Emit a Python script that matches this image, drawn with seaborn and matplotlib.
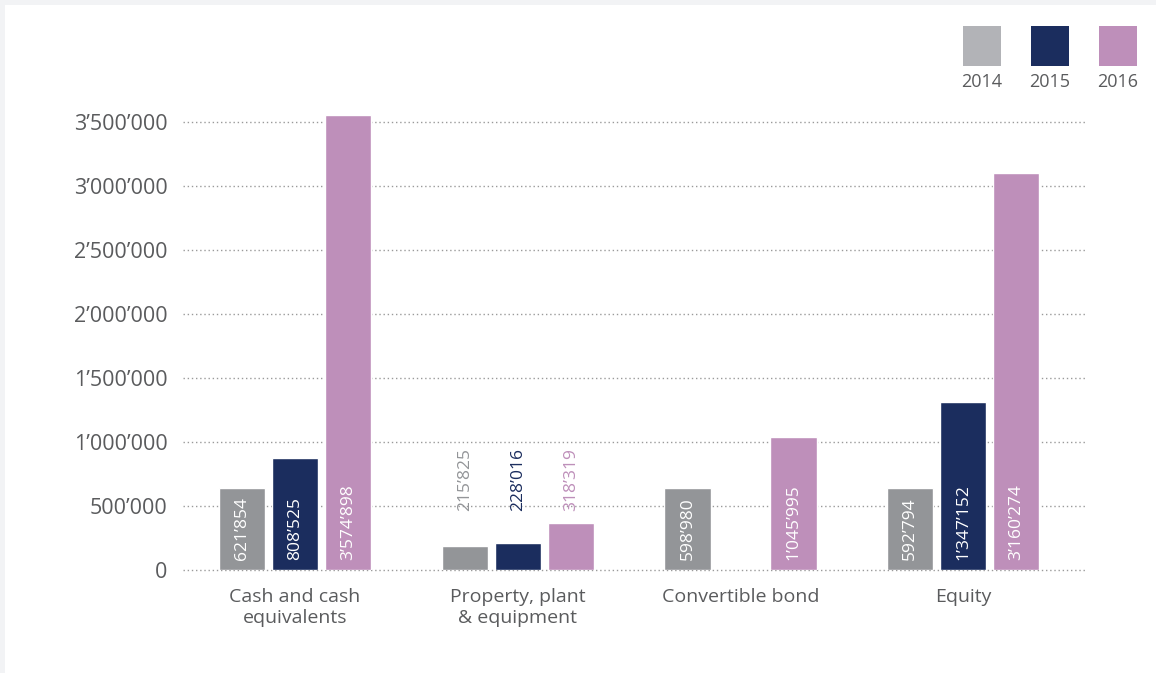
import matplotlib
matplotlib.use("Agg")
import matplotlib.pyplot as plt
from matplotlib.patches import Rectangle
import seaborn as sns
import pandas as pd

# ---- data ----
categories = ["Cash and cash\nequivalents", "Property, plant\n& equipment", "Convertible bond", "Equity"]
years = ["2014", "2015", "2016"]
# bar heights as drawn in the reference (None = no bar)
values_2014 = [640000, 187000, 640000, 640000]
values_2015 = [875000, 211000, None, 1312000]
values_2016 = [3555000, 367000, 1039000, 3101000]
# printed value labels
labels_2014 = ["621’854", "215’825", "598’980", "592’794"]
labels_2015 = ["808’525", "228’016", "", "1’347’152"]
labels_2016 = ["3’574’898", "318’319", "1’045’995", "3’160’274"]
yticks = [0, 500000, 1000000, 1500000, 2000000, 2500000, 3000000, 3500000]

bar_colors = ["#939598", "#1b2d5e", "#be8fba"]
legend_colors = ["#b2b3b7", "#1b2d5e", "#be8fba"]
text_color = "#5a5b5d"

rows = []
for yr, vals in zip(years, [values_2014, values_2015, values_2016]):
    for c, v in zip(categories, vals):
        if v is not None:
            rows.append({"cat": c, "year": yr, "value": v})
df = pd.DataFrame(rows)
label_map = {yr: labs for yr, labs in zip(years, [labels_2014, labels_2015, labels_2016])}

sns.set_style("white")
plt.rcParams["font.family"] = ["Open Sans", "DejaVu Sans"]

W, H = 1156, 673
fig = plt.figure(figsize=(W / 100, H / 100), dpi=100)
fig.patch.set_facecolor("#f2f3f5")
fig.add_artist(Rectangle((5 / W, 0), 1, 1 - 5 / H, transform=fig.transFigure,
                         facecolor="white", edgecolor="none", zorder=0))

ymax = 3600000
x0, x1 = 183, 1085
y0 = 570
ytop = y0 - ymax / 3500000 * 448
ax = fig.add_axes([x0 / W, (H - y0) / H, (x1 - x0) / W, (y0 - ytop) / H])
ax.patch.set_alpha(0)

sns.barplot(data=df, x="cat", y="value", hue="year", order=categories, hue_order=years,
            palette=bar_colors, width=0.714, gap=0.13, saturation=1, legend=False,
            errorbar=None, ax=ax, zorder=3)

ax.set_xlim(-0.503, 3.547)
ax.set_ylim(0, ymax)
ax.set_yticks(yticks)
ax.set_yticklabels([f"{v:,}".replace(",", "’") for v in yticks])
ax.yaxis.grid(True, linestyle=(0, (1, 2)), color="#9a9a9a", linewidth=1)
for gl in ax.get_ygridlines():
    gl.set_clip_on(False)
ax.xaxis.grid(False)
ax.set_axisbelow(True)
for s in ax.spines.values():
    s.set_visible(False)
ax.tick_params(axis="both", length=0, labelcolor=text_color)
ax.tick_params(axis="y", pad=11, labelsize=15.5)
ax.tick_params(axis="x", pad=13, labelsize=14)
for t in ax.get_xticklabels():
    t.set_linespacing(1.2)
ax.set_xlabel("")
ax.set_ylabel("")

# value labels
small_cat = 1  # property, plant & equipment -> labels above bars
for yi, (yr, cont) in enumerate(zip(years, ax.containers)):
    for bar in cont:
        h = bar.get_height()
        if h != h:  # nan
            continue
        cx = bar.get_x() + bar.get_width() / 2
        ci = int(round(cx))
        lab = label_map[yr][ci]
        if not lab:
            continue
        if ci == small_cat:
            ax.text(cx, 460000, lab, rotation=90, ha="center", va="bottom",
                    color=bar_colors[yi], fontsize=12.5, zorder=5)
        else:
            ax.text(cx, 78000, lab, rotation=90, ha="center", va="bottom",
                    color="white", fontsize=12.5, zorder=5)

# legend (manual, squares above labels)
for i, (yr, col) in enumerate(zip(years, legend_colors)):
    lx = 963 + i * 68
    fig.add_artist(Rectangle((lx / W, (H - 66) / H), 38 / W, 40 / H, transform=fig.transFigure,
                             facecolor=col, edgecolor="none"))
    fig.text((lx + 19) / W, (H - 82) / H, yr, ha="center", va="center",
             color=text_color, fontsize=13)

fig.savefig("out.png", dpi=100)
